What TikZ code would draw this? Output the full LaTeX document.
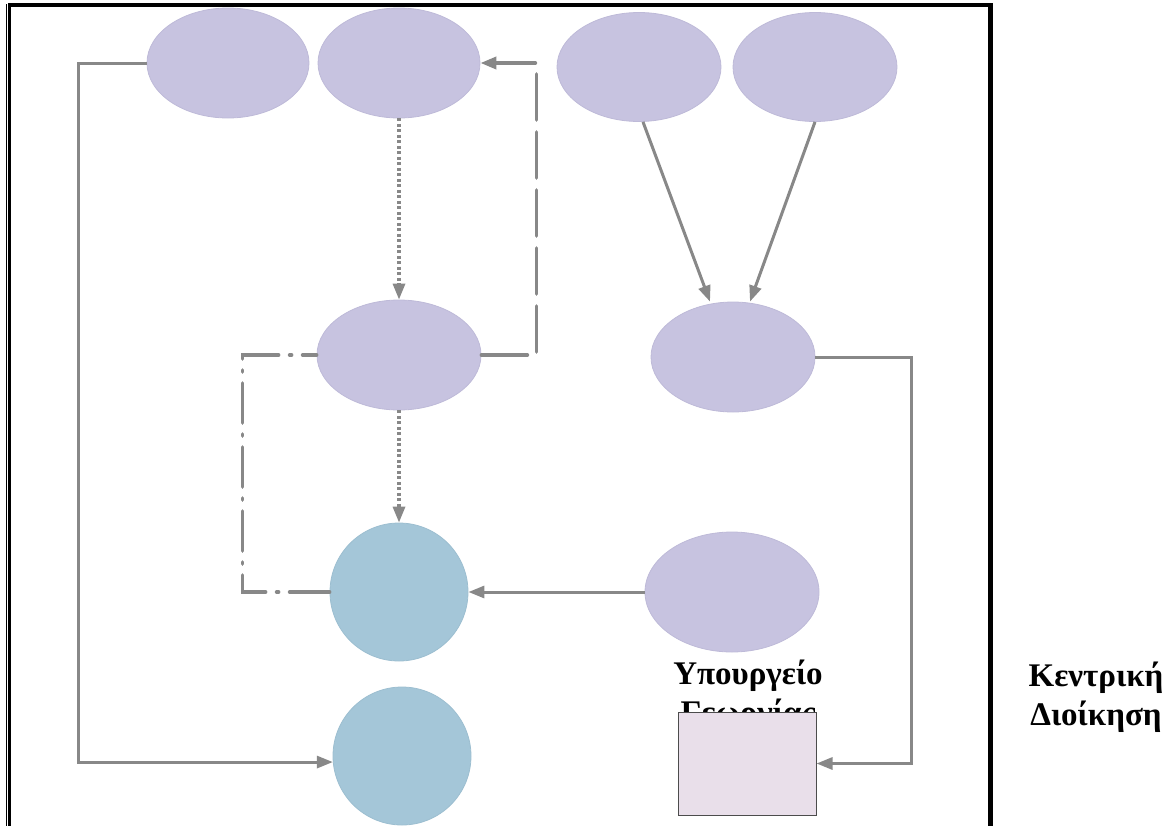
\documentclass[tikz,border=0pt]{standalone}
\usepackage{fontspec}
\setmainfont{Liberation Serif}
\usetikzlibrary{shapes.geometric,arrows.meta}
\definecolor{lav}{RGB}{199,195,224}
\definecolor{lavedge}{RGB}{190,186,216}
\definecolor{teal}{RGB}{164,198,216}
\definecolor{tealedge}{RGB}{156,190,208}
\definecolor{pinkbox}{RGB}{233,223,234}
\definecolor{linegray}{RGB}{136,136,136}
\tikzset{
  ell/.style={ellipse, fill=lav, draw=lavedge, line width=0.8pt, inner sep=0pt},
  disc/.style={circle, fill=teal, draw=tealedge, line width=0.8pt, inner sep=0pt, minimum size=138pt},
  conn/.style={draw=linegray, line width=3pt},
  tip/.style={-{Triangle[length=16pt,width=12pt,fill=linegray]}},
  dots/.style={dash pattern=on 3pt off 2.5pt, line width=3.2pt},
  longdash/.style={dash pattern=on 46pt off 12pt, line cap=round, line width=3.6pt},
  dashdotline/.style={dash pattern=on 40pt off 11pt on 2pt off 11pt, line cap=round, line width=3.6pt},
  label/.style={font=\bfseries\fontsize{33}{39}\selectfont, align=center, inner sep=0pt, anchor=north},
  frameline/.style={line width=4.5pt, black}
}
\begin{document}
\begin{tikzpicture}[x=1pt,y=-1pt]
\useasboundingbox (0,0) rectangle (1175,825);
% page frame
\draw[frameline] (9,5) -- (990.5,5) -- (990.5,830);
\draw[line width=3.5pt] (9.5,3) -- (9.5,830);
\draw[line width=1.3pt] (6.5,4) -- (6.5,830);

% ellipses and circles
\node[ell, minimum width=162pt, minimum height=110pt] (A) at (228,63) {};
\node[ell, minimum width=162pt, minimum height=110pt] (B) at (399,63) {};
\node[ell, minimum width=164pt, minimum height=109pt] (C) at (639,67) {};
\node[ell, minimum width=164pt, minimum height=109pt] (D) at (815,67) {};
\node[ell, minimum width=164pt, minimum height=110pt] (E) at (399,355) {};
\node[ell, minimum width=164pt, minimum height=110pt] (F) at (733,357) {};
\node[ell, minimum width=174pt, minimum height=120pt] (H) at (732,592) {};
\node[disc] (G) at (399,592) {};
\node[disc] (I) at (402,756) {};

% labels
\node[label] (ministry) at (748,660) {Υπουργείο\\Γεωργίας};
\node[label] (central) at (1096,662) {Κεντρική\\Διοίκηση};

% box on top of the second label line
\node[draw=black!70, line width=1pt, fill=pinkbox, minimum width=138pt, minimum height=103pt, inner sep=0pt] (R) at (747,763.5) {};

% connectors
\draw[conn, tip] (A.west) -- ++(-68,0) |- (I.185);
\draw[conn, tip, dots] (B.south) -- (E.north);
\draw[conn, tip, dots] (E.south) -- (G.north);
\draw[conn, tip, longdash] (E.east) -- ++(55,0) |- (B.east);
\draw[conn, dashdotline] (G.west) -- ++(-87,0) |- (E.west);
\draw[conn, tip] ([xshift=4pt]C.south) -- ([xshift=-23pt]F.north);
\draw[conn, tip] (D.south) -- ([xshift=17pt]F.north);
\draw[conn, tip] (H.west) -- (G.east);
\draw[conn, tip] (F.east) -- ++(96,0) |- (R.east);
\end{tikzpicture}
\end{document}
